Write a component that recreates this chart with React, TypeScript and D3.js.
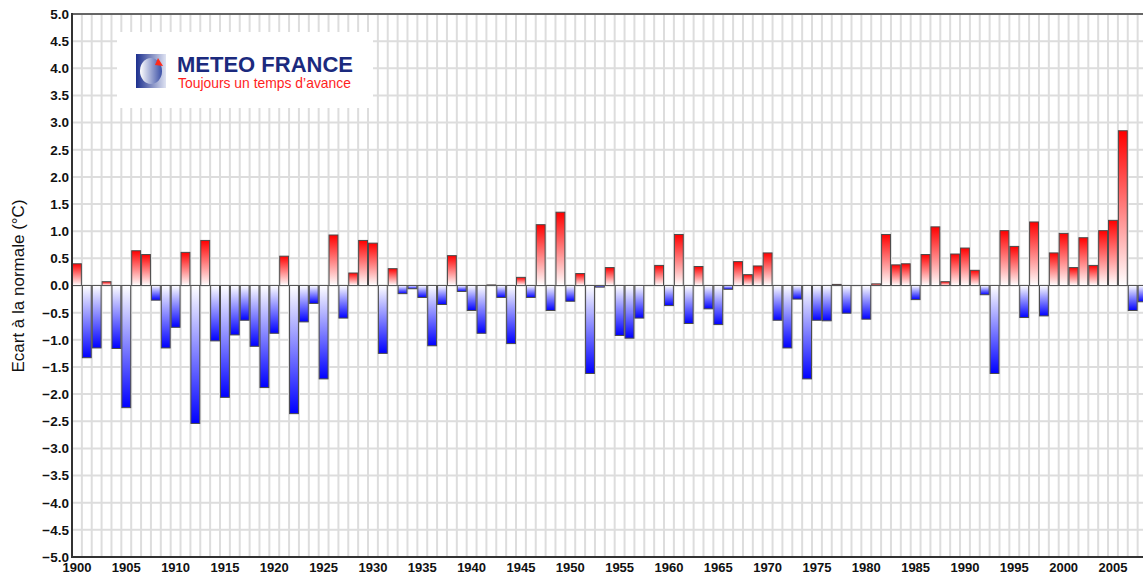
import React, { useEffect, useRef } from "react";
import * as d3 from "d3";

// years shown on the x axis (the last one is clipped at the right edge)
const years: number[] = d3.range(1900, 2009);

// annual temperature anomaly vs. normal (°C)
const anomalies: number[] = [
  0.4, -1.33, -1.15, 0.07, -1.16, -2.25, 0.64, 0.57, -0.27, -1.15,
  -0.77, 0.61, -2.54, 0.83, -1.02, -2.06, -0.91, -0.64, -1.12, -1.88,
  -0.88, 0.54, -2.36, -0.67, -0.33, -1.72, 0.93, -0.6, 0.23, 0.83,
  0.78, -1.25, 0.31, -0.15, -0.06, -0.22, -1.11, -0.35, 0.55, -0.11,
  -0.46, -0.88, 0.01, -0.22, -1.07, 0.15, -0.22, 1.12, -0.46, 1.35,
  -0.29, 0.22, -1.62, -0.03, 0.33, -0.92, -0.97, -0.6, 0, 0.37,
  -0.37, 0.94, -0.7, 0.35, -0.43, -0.72, -0.07, 0.44, 0.2, 0.36,
  0.6, -0.64, -1.15, -0.25, -1.72, -0.64, -0.65, 0.02, -0.51, 0,
  -0.62, 0.03, 0.94, 0.38, 0.4, -0.26, 0.57, 1.08, 0.07, 0.58,
  0.69, 0.28, -0.17, -1.62, 1.01, 0.72, -0.59, 1.17, -0.56, 0.6,
  0.96, 0.33, 0.88, 0.37, 1.01, 1.2, 2.85, -0.46, -0.3,
];

const yTicks: number[] = d3.range(-5, 5.01, 0.5);
const xTickYears: number[] = d3.range(1900, 2006, 5);

const yLabel = "Ecart à la normale (°C)";
const brandTitle = "METEO FRANCE";
const brandSlogan = "Toujours un temps d\u2019avance";

const W = 1143;
const H = 576;
const FONT = "Liberation Sans, Arial, sans-serif";

export default function App() {
  const svgRef = useRef<SVGSVGElement>(null);

  useEffect(() => {
    const root = d3.select(svgRef.current);
    root.selectChildren().remove();

    const left = 72;
    const yearW = 9.867;
    const x = d3
      .scaleBand<number>()
      .domain(years)
      .range([left, left + yearW * years.length])
      .padding(0);
    const y = d3.scaleLinear().domain([-5, 5]).range([557, 14]);

    const defs = root.append("defs");
    const red = defs
      .append("linearGradient")
      .attr("id", "gPos")
      .attr("x1", 0)
      .attr("y1", 0)
      .attr("x2", 0)
      .attr("y2", 1);
    red.append("stop").attr("offset", "0%").attr("stop-color", "#ff0000");
    red.append("stop").attr("offset", "100%").attr("stop-color", "#ffffff");
    const blue = defs
      .append("linearGradient")
      .attr("id", "gNeg")
      .attr("x1", 0)
      .attr("y1", 0)
      .attr("x2", 0)
      .attr("y2", 1);
    blue.append("stop").attr("offset", "0%").attr("stop-color", "#ffffff");
    blue.append("stop").attr("offset", "100%").attr("stop-color", "#0000ff");
    const sq = defs.append("linearGradient").attr("id", "gLogo");
    sq.append("stop").attr("offset", "0%").attr("stop-color", "#1c2f8e");
    sq.append("stop").attr("offset", "100%").attr("stop-color", "#dfe3f2");
    const ball = defs.append("linearGradient").attr("id", "gBall");
    ball.append("stop").attr("offset", "0%").attr("stop-color", "#ffffff");
    ball.append("stop").attr("offset", "100%").attr("stop-color", "#3a4fa6");

    const grid = root.append("g");
    // vertical grid at every year boundary
    grid
      .selectAll("line.v")
      .data(years.slice(1))
      .enter()
      .append("line")
      .attr("x1", (d) => x(d)!)
      .attr("x2", (d) => x(d)!)
      .attr("y1", y(5))
      .attr("y2", y(-5))
      .attr("stroke", "#dddddd")
      .attr("stroke-width", 2);
    // horizontal grid every 0.5
    grid
      .selectAll("line.h")
      .data(yTicks)
      .enter()
      .append("line")
      .attr("x1", left)
      .attr("x2", W)
      .attr("y1", (d) => y(d))
      .attr("y2", (d) => y(d))
      .attr("stroke", "#dddddd")
      .attr("stroke-width", 2);

    // logo box hides the grid behind it
    const logo = root.append("g");
    logo
      .append("rect")
      .attr("x", 117)
      .attr("y", 32)
      .attr("width", 256)
      .attr("height", 76)
      .attr("fill", "#ffffff");
    logo
      .append("rect")
      .attr("x", 136)
      .attr("y", 54)
      .attr("width", 30)
      .attr("height", 34)
      .attr("fill", "url(#gLogo)");
    logo
      .append("ellipse")
      .attr("cx", 151)
      .attr("cy", 71)
      .attr("rx", 11)
      .attr("ry", 13)
      .attr("fill", "url(#gBall)");
    logo
      .append("path")
      .attr("d", "M158,58 L163,66 L155,65 Z")
      .attr("fill", "#ff2a1a");
    logo
      .append("text")
      .attr("x", 177)
      .attr("y", 72)
      .attr("font-family", FONT)
      .attr("font-weight", "bold")
      .attr("font-size", 22)
      .attr("fill", "#1b2a7e")
      .text(brandTitle);
    logo
      .append("text")
      .attr("x", 178)
      .attr("y", 88)
      .attr("font-family", FONT)
      .attr("font-size", 13.9)
      .attr("fill", "#ff1e1e")
      .text(brandSlogan);

    // bars
    root
      .append("g")
      .selectAll("rect")
      .data(years.map((yr, i) => ({ yr, v: anomalies[i] })))
      .enter()
      .append("rect")
      .attr("x", (d) => x(d.yr)! + 0.5)
      .attr("width", x.bandwidth() - 1)
      .attr("y", (d) => y(Math.max(0, d.v)))
      .attr("height", (d) => Math.abs(y(d.v) - y(0)))
      .attr("fill", (d) => (d.v >= 0 ? "url(#gPos)" : "url(#gNeg)"))
      .attr("stroke", "#4a4a4a")
      .attr("stroke-width", 1);

    // zero line
    root
      .append("line")
      .attr("x1", left)
      .attr("x2", W)
      .attr("y1", y(0))
      .attr("y2", y(0))
      .attr("stroke", "#555555")
      .attr("stroke-width", 1);

    // frame: top, bottom, left
    root
      .append("line")
      .attr("x1", left)
      .attr("x2", W)
      .attr("y1", y(5))
      .attr("y2", y(5))
      .attr("stroke", "#666666")
      .attr("stroke-width", 2);
    root
      .append("line")
      .attr("x1", left)
      .attr("x2", W)
      .attr("y1", y(-5))
      .attr("y2", y(-5))
      .attr("stroke", "#333333")
      .attr("stroke-width", 2);
    root
      .append("line")
      .attr("x1", left)
      .attr("x2", left)
      .attr("y1", y(5) - 1)
      .attr("y2", y(-5) + 1)
      .attr("stroke", "#333333")
      .attr("stroke-width", 2);

    // y tick labels
    root
      .append("g")
      .selectAll("text")
      .data(yTicks)
      .enter()
      .append("text")
      .attr("x", 69)
      .attr("y", (d) => y(d))
      .attr("dy", "0.36em")
      .attr("text-anchor", "end")
      .attr("font-family", FONT)
      .attr("font-weight", "bold")
      .attr("font-size", 13.5)
      .attr("fill", "#111")
      .text((d) => d3.format(".1f")(Math.abs(d) < 1e-9 ? 0 : d));

    // x tick labels
    root
      .append("g")
      .selectAll("text")
      .data(xTickYears)
      .enter()
      .append("text")
      .attr("x", (d) => x(d)! + x.bandwidth() / 2)
      .attr("y", 572)
      .attr("text-anchor", "middle")
      .attr("font-family", FONT)
      .attr("font-weight", "bold")
      .attr("font-size", 13)
      .attr("fill", "#111")
      .text((d) => String(d));

    // y axis title
    root
      .append("text")
      .attr("transform", `translate(24,${286}) rotate(-90)`)
      .attr("text-anchor", "middle")
      .attr("font-family", FONT)
      .attr("font-size", 17)
      .attr("fill", "#111")
      .text(yLabel);
  }, []);

  return (
    <svg
      ref={svgRef}
      width={W}
      height={H}
      style={{ position: "absolute", left: 0, top: 0, background: "#fff", overflow: "hidden" }}
    />
  );
}
